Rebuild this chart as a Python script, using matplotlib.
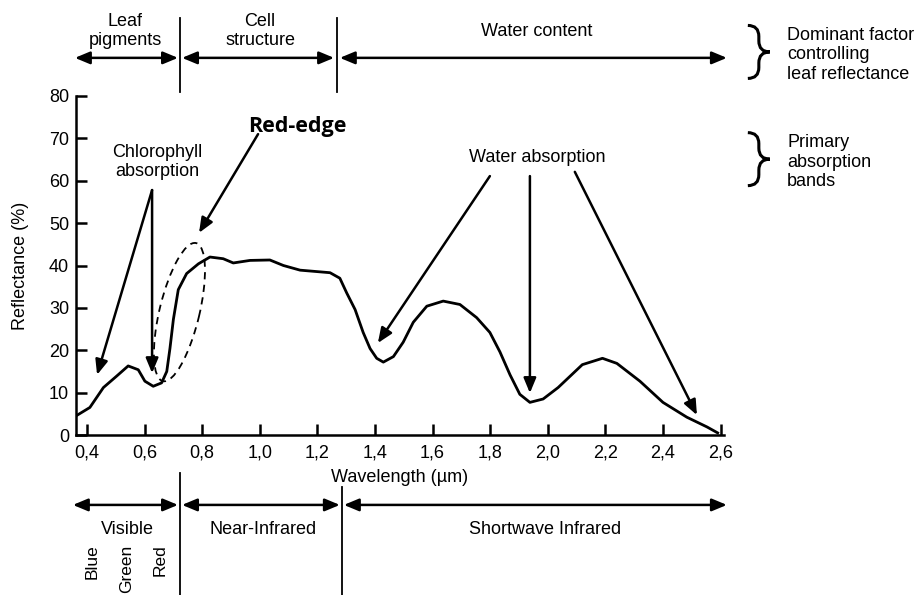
import numpy as np
import matplotlib
matplotlib.use('Agg')
import matplotlib.pyplot as plt
from matplotlib.patches import Ellipse, PathPatch
from matplotlib.path import Path
from matplotlib.transforms import ScaledTranslation

# leaf reflectance curve
wavelength = [0.364, 0.41, 0.457, 0.503, 0.543, 0.578, 0.601, 0.630, 0.659, 0.677,
              0.688, 0.700, 0.717, 0.746, 0.787, 0.827, 0.873, 0.908, 0.966, 1.035,
              1.082, 1.14, 1.244, 1.278, 1.302, 1.331, 1.359, 1.383, 1.406, 1.429,
              1.464, 1.498, 1.533, 1.58, 1.637, 1.695, 1.753, 1.799, 1.834, 1.869,
              1.903, 1.938, 1.984, 2.036, 2.12, 2.19, 2.24, 2.32, 2.40, 2.483,
              2.553, 2.59]
reflectance = [4.6, 6.5, 11.2, 13.9, 16.3, 15.4, 12.7, 11.5, 12.3, 15.0,
               20.4, 27.3, 34.3, 38.1, 40.4, 42.0, 41.6, 40.6, 41.2, 41.3,
               40.0, 38.9, 38.3, 37.0, 33.5, 29.6, 24.2, 20.4, 18.1, 17.2,
               18.5, 21.9, 26.6, 30.4, 31.6, 30.8, 27.7, 24.2, 19.6, 14.2,
               9.6, 7.7, 8.5, 11.2, 16.6, 18.1, 16.9, 12.7, 7.7, 4.2,
               1.9, 0.5]

xticks = [0.4, 0.6, 0.8, 1.0, 1.2, 1.4, 1.6, 1.8, 2.0, 2.2, 2.4, 2.6]
xticklabels = ['0,4', '0,6', '0,8', '1,0', '1,2', '1,4', '1,6', '1,8', '2,0', '2,2', '2,4', '2,6']
yticks = [0, 10, 20, 30, 40, 50, 60, 70, 80]

plt.rcParams['font.family'] = ['Liberation Sans', 'DejaVu Sans']
FS = 13

fig = plt.figure(figsize=(9.24, 5.95), dpi=100)
ax = fig.add_axes([76 / 924, 1 - 435 / 595, 648 / 924, 339 / 595])

ax.plot(wavelength, reflectance, color='black', lw=2.0, solid_joinstyle='round')

ax.set_xlim(0.3618, 2.612)
ax.set_ylim(0, 80)
ax.set_xticks(xticks)
ax.set_xticklabels(xticklabels)
ax.set_yticks(yticks)
for s in ['top', 'right']:
    ax.spines[s].set_visible(False)
for s in ['left', 'bottom']:
    ax.spines[s].set_linewidth(1.8)
ax.tick_params(direction='in', length=8, width=1.8, labelsize=FS)
ax.tick_params(axis='x', pad=7)
ax.tick_params(axis='y', pad=5)
ax.set_ylabel('Reflectance (%)', fontsize=FS, labelpad=14)
ax.set_xlabel('Wavelength (µm)', fontsize=FS, labelpad=5)

arr = '-|>,head_length=0.6,head_width=0.25'
darr = '<|-|>,head_length=0.6,head_width=0.25'


def arrow(x0, y0, x1, y1, style=arr):
    ax.annotate('', xy=(x1, y1), xytext=(x0, y0),
                arrowprops=dict(arrowstyle=style, lw=1.8, color='black',
                                mutation_scale=15, shrinkA=0, shrinkB=0),
                annotation_clip=False)


def vline(x, y0, y1):
    ax.plot([x, x], [y0, y1], color='black', lw=1.3, clip_on=False)


def brace(x, y, h=0.53, w=0.22):
    verts = [(-w / 2, h / 2), (0, h / 2), (0, h / 2 - w / 2), (0, w / 2),
             (0, 0), (w / 2, 0), (0, 0), (0, -w / 2), (0, -h / 2 + w / 2),
             (0, -h / 2), (-w / 2, -h / 2)]
    codes = [Path.MOVETO, Path.CURVE3, Path.CURVE3, Path.LINETO,
             Path.CURVE3, Path.CURVE3, Path.CURVE3, Path.CURVE3, Path.LINETO,
             Path.CURVE3, Path.CURVE3]
    tr = fig.dpi_scale_trans + ScaledTranslation(x, y, ax.transData)
    ax.add_patch(PathPatch(Path(verts, codes), fill=False, lw=2.2, color='black',
                           transform=tr, clip_on=False))


# top band: dominant factor
arrow(0.716, 89.0, 0.358, 89.0, darr)
arrow(0.730, 89.0, 1.258, 89.0, darr)
arrow(1.278, 89.0, 2.622, 89.0, darr)
vline(0.723, 80.9, 98.4)
vline(1.268, 80.9, 98.4)
ax.text(0.532, 95.3, 'Leaf\npigments', ha='center', va='center', fontsize=FS)
ax.text(1.001, 95.3, 'Cell\nstructure', ha='center', va='center', fontsize=FS)
ax.text(1.963, 95.3, 'Water content', ha='center', va='center', fontsize=FS)

# right side legend
brace(2.733, 90.4)
brace(2.733, 65.1)
ax.text(2.831, 89.7, 'Dominant factor\ncontrolling\nleaf reflectance',
        ha='left', va='center', fontsize=FS)
ax.text(2.831, 64.4, 'Primary\nabsorption\nbands', ha='left', va='center', fontsize=FS)

# chlorophyll absorption
ax.text(0.643, 64.4, 'Chlorophyll\nabsorption', ha='center', va='center', fontsize=FS)
arrow(0.626, 57.8, 0.435, 14.2)
arrow(0.626, 57.8, 0.626, 14.6)

# red edge
ax.text(1.129, 72.9, 'Red-edge', ha='center', va='center', fontsize=15.5,
        fontweight='bold', family=['Open Sans', 'DejaVu Sans'])
arrow(0.994, 71.0, 0.789, 47.7)
tr = fig.dpi_scale_trans + ScaledTranslation(0.721, 29.0, ax.transData)
ax.add_patch(Ellipse((0, 0), 1.42, 0.40, angle=76.5, fill=False, color='black',
                     lw=1.3, linestyle=(0, (4, 3)), transform=tr, clip_on=False))

# water absorption
ax.text(1.963, 65.6, 'Water absorption', ha='center', va='center', fontsize=FS)
arrow(1.799, 61.1, 1.410, 21.7)
arrow(1.938, 61.1, 1.938, 9.9)
arrow(2.094, 62.1, 2.518, 4.7)

# bottom band: spectral regions
arrow(0.716, -16.5, 0.351, -16.5, darr)
arrow(0.730, -16.5, 1.278, -16.5, darr)
arrow(1.292, -16.5, 2.622, -16.5, darr)
vline(0.723, -9.0, -40)
vline(1.285, -12.3, -40)
ax.text(0.542, -22.2, 'Visible', ha='center', va='center', fontsize=FS)
ax.text(1.011, -22.2, 'Near-Infrared', ha='center', va='center', fontsize=FS)
ax.text(1.99, -22.2, 'Shortwave Infrared', ha='center', va='center', fontsize=FS)
for xb, lab in [(0.417, 'Blue'), (0.539, 'Green'), (0.653, 'Red')]:
    ax.text(xb, -25.8, lab, ha='center', va='top', rotation=90, fontsize=12.5)

fig.savefig('out.png', dpi=100)
